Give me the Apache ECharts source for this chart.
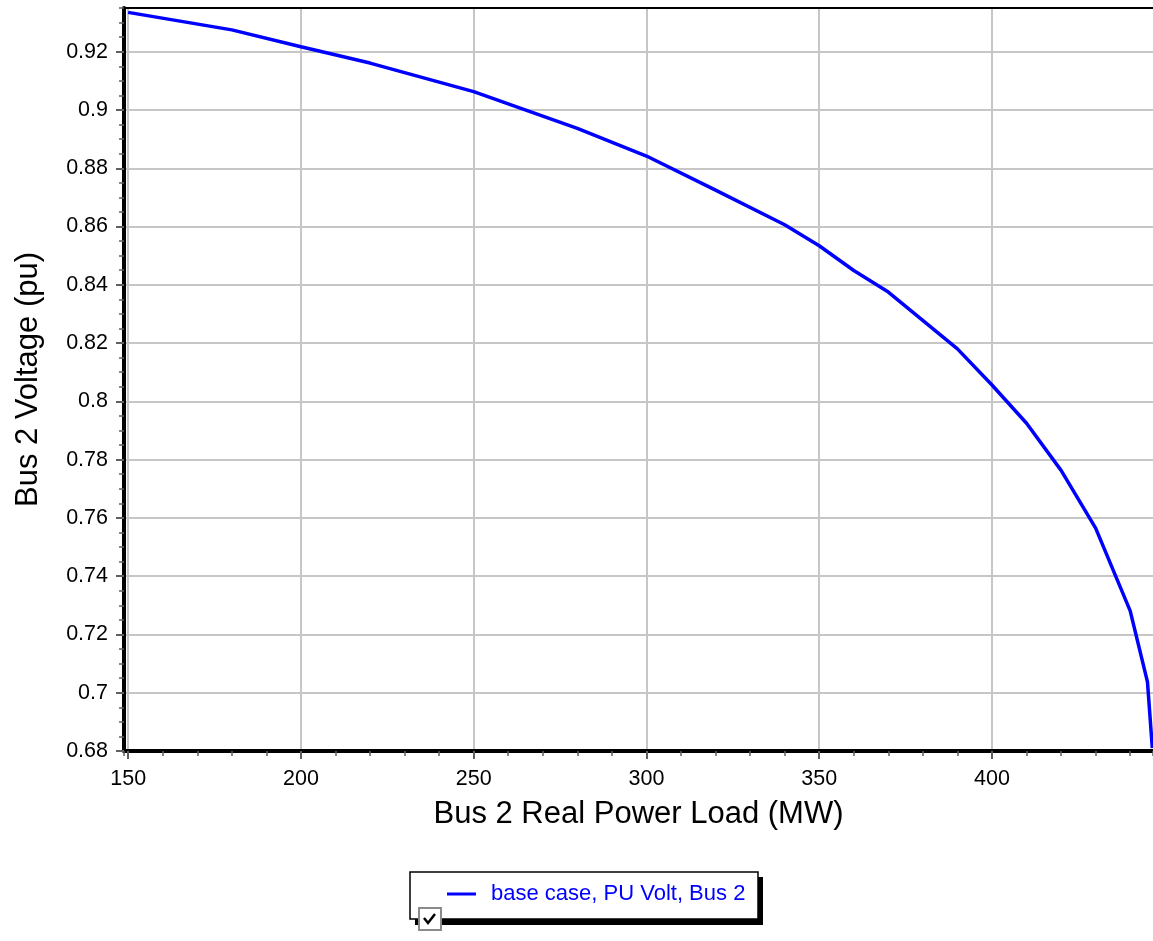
<!DOCTYPE html>
<html>
<head>
<meta charset="utf-8">
<title>Bus 2 PV curve</title>
<script src="https://cdn.jsdelivr.net/npm/echarts@6/dist/echarts.min.js"></script>
<style>
  html, body { margin: 0; padding: 0; background: #fff; }
  #chart { width: 1153px; height: 941px; }
</style>
</head>
<body>
<div id="chart"></div>
<script>
// Bus 2 real power load (MW) and bus 2 voltage (pu)
const loadMW = [150, 180, 200, 220, 250, 280, 300, 320, 340, 350, 360, 370, 390, 400, 410, 420, 430, 440, 445, 446.4]
const voltagePU = [0.9335, 0.9275, 0.9217, 0.9161, 0.9063, 0.8937, 0.8842, 0.8725, 0.8606, 0.8534, 0.8449, 0.8375, 0.818, 0.8056, 0.7925, 0.7763, 0.7565, 0.7281, 0.7037, 0.681]
const seriesName = 'base case, PU Volt, Bus 2'
const xRange = [148.8, 446.6]
const yRange = [0.68, 0.935]

const font = 'Liberation Sans, Arial, sans-serif'

const chart = echarts.init(document.getElementById('chart'), null, { renderer: 'canvas' })

const option = {
  animation: false,
  backgroundColor: '#fff',
  grid: {
    left: 124,
    right: 0,
    top: 8,
    bottom: 190
  },
  legend: {
    left: 442,
    top: 878,
    icon: 'rect',
    itemWidth: 29,
    itemHeight: 3,
    textStyle: { color: '#0000ff', fontSize: 22, fontFamily: font, padding: [0, 0, 0, 10] },
    data: [seriesName]
  },
  xAxis: [
    {
      type: 'value',
      min: xRange[0],
      max: xRange[1],
      splitNumber: 6,
      name: 'Bus 2 Real Power Load (MW)',
      nameLocation: 'middle',
      nameGap: 48,
      nameTextStyle: { fontSize: 31, color: '#000', fontFamily: font },
      axisLine: { show: true, onZero: false, lineStyle: { color: '#000', width: 4 } },
      axisTick: { show: true, length: 8, lineStyle: { color: '#606060', width: 2 } },
      axisLabel: { fontSize: 21.5, color: '#000', fontFamily: font, margin: 17, showMinLabel: false, showMaxLabel: false },
      splitLine: { show: true, showMinLine: false, showMaxLine: false, lineStyle: { color: '#c6c6c6', width: 2 } }
    },
    {
      // minor ticks every 10 MW
      type: 'value',
      min: xRange[0],
      max: xRange[1],
      splitNumber: 30,
      position: 'bottom',
      axisLine: { show: false },
      axisTick: { show: true, length: 5, lineStyle: { color: '#606060', width: 1.5 } },
      axisLabel: { show: false },
      splitLine: { show: false }
    },
    {
      // top border of the plot
      type: 'value',
      min: xRange[0],
      max: xRange[1],
      position: 'top',
      axisLine: { show: true, lineStyle: { color: '#000', width: 2 } },
      axisTick: { show: false },
      axisLabel: { show: false },
      splitLine: { show: false }
    }
  ],
  yAxis: [
    {
      type: 'value',
      min: yRange[0],
      max: yRange[1],
      interval: 0.02,
      name: 'Bus 2 Voltage (pu)',
      nameLocation: 'middle',
      nameGap: 80,
      nameTextStyle: { fontSize: 31, color: '#000', fontFamily: font },
      axisLine: { show: true, onZero: false, lineStyle: { color: '#000', width: 4 } },
      axisTick: { show: true, length: 8, lineStyle: { color: '#606060', width: 2 } },
      axisLabel: { fontSize: 21.5, color: '#000', fontFamily: font, margin: 16, showMaxLabel: false },
      splitLine: { show: true, showMinLine: false, showMaxLine: false, lineStyle: { color: '#c6c6c6', width: 2 } }
    },
    {
      // minor ticks every 0.005 pu
      type: 'value',
      min: yRange[0],
      max: yRange[1],
      interval: 0.005,
      position: 'left',
      axisLine: { show: false },
      axisTick: { show: true, length: 5, lineStyle: { color: '#606060', width: 1.5 } },
      axisLabel: { show: false },
      splitLine: { show: false }
    }
  ],
  series: [
    {
      name: seriesName,
      type: 'line',
      xAxisIndex: 0,
      yAxisIndex: 0,
      data: loadMW.map((x, i) => [x, voltagePU[i]]),
      showSymbol: false,
      symbol: 'none',
      smooth: false,
      clip: true,
      lineStyle: { color: '#0000ff', width: 3.5 },
      itemStyle: { color: '#0000ff' }
    }
  ],
  graphic: [
    // legend box with its drop shadow
    { type: 'rect', z: 0, shape: { x: 415, y: 877, width: 348, height: 48 }, style: { fill: '#000' } },
    { type: 'rect', z: 1, shape: { x: 410, y: 872, width: 348, height: 47 }, style: { fill: '#fff', stroke: '#000', lineWidth: 1.5 } },
    // the little check box
    { type: 'rect', z: 2, shape: { x: 419, y: 908, width: 22, height: 22 }, style: { fill: '#fff', stroke: '#8a8a8a', lineWidth: 2 } },
    { type: 'polyline', z: 3, shape: { points: [[424, 918], [428, 923], [435, 914]] }, style: { stroke: '#000', lineWidth: 2.5, fill: null } }
  ]
}

chart.setOption(option)
</script>
</body>
</html>
